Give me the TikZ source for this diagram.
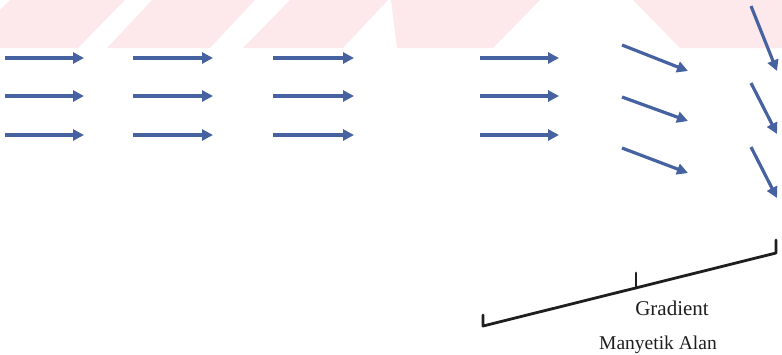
\documentclass[tikz,border=0pt]{standalone}
\usepackage{fontspec}
\setmainfont{Liberation Serif}
\usetikzlibrary{arrows.meta}
\definecolor{wmpink}{RGB}{253,233,236}
\definecolor{arrowblue}{RGB}{70,98,160}
\definecolor{inkline}{RGB}{30,30,30}
\tikzset{
  fieldarrow/.style={draw=arrowblue, line width=3.2pt, -{Triangle[length=11pt,width=11pt]}},
  bracketline/.style={draw=inkline, line width=2.8pt, line cap=round, line join=round},
  ticklabel/.style={font=\fontsize{19.5}{22}\selectfont, text=inkline, inner sep=0pt, anchor=base}
}
\begin{document}
\begin{tikzpicture}[x=1pt,y=-1pt]
\useasboundingbox (0,0) rectangle (782,354);
% watermark band
\fill[wmpink] (0,10) -- (10,0) -- (125,0) -- (78,48) -- (0,48) -- cycle;
\fill[wmpink] (152,0) -- (255,0) -- (210,48) -- (107,48) -- cycle;
\fill[wmpink] (290,0) -- (388,0) -- (343,48) -- (243,48) -- cycle;
\fill[wmpink] (391,0) -- (540,0) -- (493,48) -- (397,48) -- cycle;
\fill[wmpink] (633,0) -- (782,0) -- (782,48) -- (680,48) -- cycle;
% uniform field arrows
\foreach \c/\xa/\xb in {1/5/84, 2/133/213, 3/273/354, 4/480/559}{
  \foreach \r/\y in {1/58, 2/96, 3/135}{
    \coordinate (s\c\r) at (\xa,\y);
    \coordinate (e\c\r) at (\xb,\y);
    \draw[fieldarrow] (s\c\r) -- (e\c\r);
  }
}
% bent arrows
\foreach \r/\ya/\yb in {1/45/71, 2/97/121, 3/148/173}{
  \coordinate (s5\r) at (622,\ya);
  \coordinate (e5\r) at (688,\yb);
  \draw[fieldarrow] (s5\r) -- (e5\r);
}
\foreach \r/\ya/\yb in {1/6/71, 2/83/134, 3/147/198}{
  \coordinate (s6\r) at (751,\ya);
  \coordinate (e6\r) at (777,\yb);
  \draw[fieldarrow] (s6\r) -- (e6\r);
}
% gradient bracket
\coordinate (lt) at (483,315);
\coordinate (lb) at (483,326);
\coordinate (rb) at (776,253);
\coordinate (rt) at (776,240);
\coordinate (mt) at (636,273);
\coordinate (mb) at (636,288);
\draw[bracketline] (lt) -- (lb) -- (rb) -- (rt);
\draw[bracketline] (mt) -- (mb);
\node[ticklabel, font=\fontsize{21}{24}\selectfont] (grad) at (672,315) {Gradient};
\node[ticklabel] (mag) at (658,349) {Manyetik Alan};
\end{tikzpicture}
\end{document}
